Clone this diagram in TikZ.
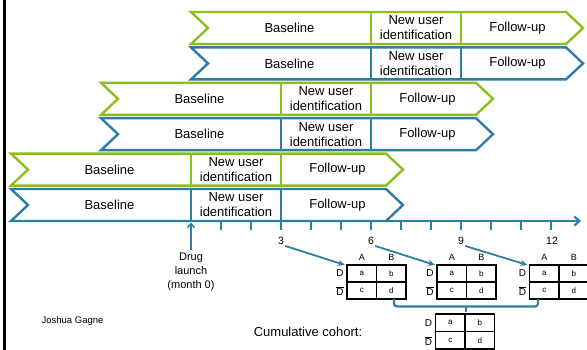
\documentclass[tikz,border=0pt]{standalone}
\usepackage{fontspec}
\setmainfont{Liberation Sans}
\usetikzlibrary{arrows.meta}
\definecolor{bgreen}{RGB}{140,190,30}
\definecolor{bblue}{RGB}{45,125,165}
\begin{document}
\begin{tikzpicture}[x=1pt,y=-1pt,
  bar/.style={line width=2.4pt, line join=miter, fill=white},
  lbl/.style={font=\fontsize{13}{15}\selectfont, align=center, inner sep=0pt},
  txt/.style={font=\fontsize{11}{14}\selectfont, align=center, inner sep=0pt},
  num/.style={font=\fontsize{10.5}{12}\selectfont, inner sep=1pt},
  tab/.style={line width=1.1pt, draw=black},
  hdr/.style={font=\fontsize{9}{10}\selectfont, inner sep=0pt},
  dlab/.style={font=\fontsize{10}{11}\selectfont, inner sep=0pt},
  cell/.style={font=\fontsize{8}{9}\selectfont, inner sep=0pt},
  tickln/.style={draw=bblue, line width=1.5pt},
  toarr/.style={draw=bblue, line width=1.8pt, -{Stealth[length=7pt,width=6pt]}},
]
\useasboundingbox (0,0) rectangle (587,350);
\clip (0,0) rectangle (587,350);
% left border
\draw[line width=3pt] (4.5,0) -- (4.5,350);
% bars
\foreach \r/\k/\c in {0/2/bgreen,1/2/bblue,2/1/bgreen,3/1/bblue,4/0/bgreen,5/0/bblue}{
  \pgfmathsetmacro\tp{12+35.4*\r}
  \pgfmathsetmacro\bt{\tp+32}
  \pgfmathsetmacro\md{\tp+16}
  \pgfmathsetmacro\L{11+90*\k}
  \pgfmathsetmacro\N{\L+17}
  \pgfmathsetmacro\Da{191+90*\k}
  \pgfmathsetmacro\Db{281+90*\k}
  \pgfmathsetmacro\S{386+90*\k}
  \pgfmathsetmacro\T{403+90*\k}
  \draw[bar, draw=\c] (\L,\tp) -- (\S,\tp) -- (\T,\md) -- (\S,\bt) -- (\L,\bt) -- (\N,\md) -- cycle;
  \draw[bar, draw=\c] (\Da,\tp) -- (\Da,\bt);
  \draw[bar, draw=\c] (\Db,\tp) -- (\Db,\bt);
  \node[lbl] (base\r) at ({(\N+\Da)/2},\md) {Baseline};
  \node[lbl] (nu\r) at ({(\Da+\Db)/2},\md) {New user\\identification};
  \node[lbl] (fu\r) at ({(\Db+\T-9)/2},\md) {Follow-up};
}
% axis
\coordinate (axs) at (191,221);
\coordinate (axe) at (581,221);
\draw[draw=bblue, line width=2.2pt, -{Straight Barb[length=5pt,width=9pt]}] (axs) -- (axe);
\foreach \j in {1,...,12}{
  \draw[tickln] ({191+30*\j},221) -- ({191+30*\j},230);
}
% drug launch
\node[txt] (drug) at (191,272) {Drug\\launch\\(month 0)};
\draw[tickln, -{Straight Barb[length=4pt,width=7pt]}] (drug.north) ++(0,-3) -- (191,222.5);
% numbers
\node[num] (n3) at (281,241) {3};
\node[num] (n6) at (371,241) {6};
\node[num] (n9) at (461,241) {9};
\node[num] (n12) at (552,241) {12};
% tables
\foreach \i/\L/\T/\h in {1/347/265/1, 2/437/265/1, 3/529.5/265/1, 4/435.5/314/0}{
  \pgfmathsetmacro\W{29.5}
  \pgfmathsetmacro\H{\ifnum\i=4 17.5\else 17\fi}
  \pgfmathsetmacro\R{\L+2*\W}
  \pgfmathsetmacro\M{\L+\W}
  \pgfmathsetmacro\Y{\T+\H}
  \pgfmathsetmacro\B{\T+2*\H}
  \draw[tab] (\L,\T) rectangle (\R,\B);
  \draw[tab] (\M,\T) -- (\M,\B);
  \draw[tab] (\L,\Y) -- (\R,\Y);
  \coordinate (tin\i) at ({\L-2},\T);
  \node[cell] (ca\i) at ({\L+\W/2},{\T+\H/2}) {a};
  \node[cell] (cb\i) at ({\M+\W/2},{\T+\H/2}) {b};
  \node[cell] (cc\i) at ({\L+\W/2},{\Y+\H/2}) {c};
  \node[cell] (cd\i) at ({\M+\W/2},{\Y+\H/2}) {d};
  \node[dlab] (dd\i) at ({\L-7},{\T+\H/2}) {D};
  \node[dlab] (dn\i) at ({\L-7},{\Y+\H/2+0.5}) {$\overline{\mbox{D}}$};
  \ifnum\h=1
    \node[hdr] (ha\i) at ({\L+\W/2},{\T-8}) {A};
    \node[hdr] (hb\i) at ({\M+\W/2},{\T-8}) {B};
  \fi
}
\draw[toarr] (n3.south east) -- (tin1);
\draw[toarr] (n6.south east) -- (tin2);
\draw[toarr] (n9.south east) -- (tin3);
% bracket
\coordinate (bl) at (394,299);
\coordinate (br) at (538,299);
\coordinate (bm) at (466,306.5);
\coordinate (bmt) at (466,312);
\draw[draw=bblue, line width=2.2pt, rounded corners=3pt] (bl) -- (394,306.5) -- (538,306.5) -- (br);
\draw[draw=bblue, line width=1.8pt] (bm) -- (bmt);
% texts
\node[font=\fontsize{9.5}{11}\selectfont, inner sep=0pt] (author) at (72.5,321) {Joshua Gagne};
\node[lbl] (cum) at (308,332) {Cumulative cohort:};
\end{tikzpicture}
\end{document}
